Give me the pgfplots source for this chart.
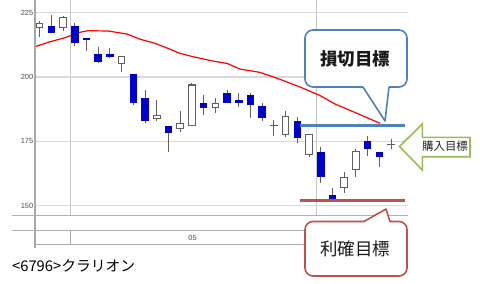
\documentclass[border=0pt]{standalone}
\usepackage{fontspec}
\setmainfont{Liberation Sans}
\newfontfamily\jp{Noto Sans CJK JP}
\usepackage{pgfplots}
\usepackage{pgfplotstable}
\pgfplotsset{compat=1.18}
\definecolor{cblue}{RGB}{0,0,200}
\definecolor{wick}{RGB}{96,96,96}
\definecolor{tblue}{RGB}{79,129,189}
\definecolor{tred}{RGB}{192,80,77}
\definecolor{tgreen}{RGB}{155,187,89}
\definecolor{gridc}{RGB}{218,218,218}
\definecolor{vgrid}{RGB}{200,200,200}
\definecolor{axc}{RGB}{168,168,168}

\pgfplotstableread{
i o h l c
1 219.3 221.9 215.4 220.9
2 219.9 224.1 217.2 217.2
3 219.2 223.8 218.0 223.1
4 219.9 220.9 212.2 213.1
5 215.2 215.2 210.1 214.3
6 208.9 211.8 205.3 205.9
7 208.9 211.2 207.3 207.9
8 205.3 207.9 202.1 207.9
9 201.0 201.0 189.1 190.0
10 191.8 194.9 182.0 183.0
11 183.9 191.1 183.0 185.0
12 180.9 180.9 171.0 178.1
13 179.8 186.9 178.7 182.0
14 181.1 197.8 181.1 196.9
15 189.9 193.0 185.2 188.1
16 188.1 191.7 185.9 189.8
17 193.9 194.9 190.0 190.0
18 190.9 193.9 188.2 190.0
19 193.0 193.9 183.9 189.1
20 188.8 189.8 183.0 183.9
21 181.0 183.3 177.2 181.0
22 177.7 186.9 176.8 184.8
23 182.9 184.6 174.2 176.2
24 169.9 177.7 169.0 177.7
25 171.0 172.7 158.9 161.2
26 154.0 156.7 152.4 152.4
27 157.1 162.9 155.0 160.8
28 164.1 171.9 161.2 171.0
29 175.1 177.1 169.3 172.0
30 171.0 171.0 165.1 169.0
31 173.6 175.8 171.9 173.6
}\ohlc

\pgfplotstableread{
i o c
2 219.9 217.2
4 219.9 213.1
5 215.2 214.3
6 208.9 205.9
7 208.9 207.9
9 201.0 190.0
10 191.8 183.0
12 180.9 178.1
15 189.9 188.1
17 193.9 190.0
18 190.9 190.0
19 193.0 189.1
20 188.8 183.9
23 182.9 176.2
25 171.0 161.2
26 154.0 152.4
29 175.1 172.0
30 171.0 169.0
}\down

\pgfplotstableread{
i o c
1 219.3 220.9
3 219.2 223.1
8 205.3 207.9
11 183.9 185.0
13 179.8 182.0
14 181.1 196.9
16 188.1 189.8
22 177.7 184.8
24 169.9 177.7
27 157.1 160.8
28 164.1 171.0
}\up

\pgfplotstableread{
i o
21 181.0
31 173.6
}\doji

\pgfplotsset{candle/.style={draw=none, mark=none, forget plot,
  error bars/.cd, y dir=plus, y explicit, error mark=none}}

\begin{document}
\begin{tikzpicture}
\begin{axis}[
  at={(35bp,-215bp)}, anchor=south west,
  scale only axis, width=373bp, height=215bp,
  xmin=0.6, xmax=32.45, ymin=146.35, ymax=229.94,
  axis line style={draw=none},
  major tick style={draw=none},
  xtick={3.62,24.63}, xticklabels={,,},
  ytick={150,175,200,225},
  xmajorgrids, ymajorgrids,
  x grid style={color=vgrid, line width=0.9bp},
  y grid style={color=gridc, line width=1.4bp},
  yticklabel style={font=\fontsize{7.5}{8}\selectfont, text=black!70, inner sep=1.5bp},
  /pgf/number format/assume math mode=true,
]
% moving average
\addplot[color=red, line width=1.2bp, mark=none] coordinates {
(0.60,211.8) (1.88,213.7) (3.16,215.3) (4.44,217.4) (5.12,218.0) (6.83,217.9)
(8.46,216.7) (9.57,214.7) (10.85,213.1) (12.13,210.8) (12.98,209.2) (14.09,207.9)
(15.80,206.2) (16.99,205.3) (18.10,203.1) (19.81,201.8) (21.52,199.1) (23.23,196.1)
(24.94,192.8) (26.22,189.5) (27.93,186.2) (30.06,182.0)};
% wicks
\addplot[candle, error bar style={draw=wick, line width=1bp}]
  table[x=i, y=l, y error expr=\thisrow{h}-\thisrow{l}] {\ohlc};
% down bodies
\addplot[candle, error bar style={draw=cblue, line width=7.5bp}]
  table[x=i, y=c, y error expr=\thisrow{o}-\thisrow{c}] {\down};
% up bodies outline + fill
\addplot[candle, error bar style={draw=wick, line width=7.5bp}]
  table[x=i, y expr=\thisrow{o}-0.2, y error expr=\thisrow{c}-\thisrow{o}+0.4] {\up};
\addplot[candle, error bar style={draw=white, line width=5.5bp}]
  table[x=i, y expr=\thisrow{o}+0.2, y error expr=\thisrow{c}-\thisrow{o}-0.4] {\up};
% doji
\addplot[candle, error bar style={draw=wick, line width=7.5bp}]
  table[x=i, y expr=\thisrow{o}-0.2, y error expr=0.4] {\doji};
% target lines
\addplot[color=tblue, line width=3bp, mark=none] coordinates {(23.23,181.3) (32.2,181.3)};
\addplot[color=tred, line width=3bp, mark=none] coordinates {(23.23,151.9) (32.2,151.9)};
\end{axis}

\begin{scope}[x=1bp,y=-1bp]
\draw[axc, line width=1.8bp] (35,0) -- (35,248);
\draw[axc!90, line width=1bp] (12,215) -- (408,215);
\draw[axc!90, line width=1bp] (12,230) -- (408,230);
\draw[axc, line width=1bp] (35,244) -- (408,244);
\draw[axc, line width=1bp] (70,230) -- (70,244);
\draw[axc, line width=1bp] (316,230) -- (316,244);
\node[inner sep=0, text=black!70] at (192.5,237.5) {\fontsize{7.5}{8}\selectfont 05};

% stop-loss callout
\draw[tblue, line width=1.6bp, fill=white, rounded corners=8bp] (305,30) rectangle (407,87);
\fill[white] (364,85) rectangle (388,89);
\fill[white] (363,86) -- (385,121) -- (389,86) -- cycle;
\draw[tblue, line width=1.6bp, line join=round] (363,87) -- (385,121) -- (389,87);
\node[text=black!90] at (355,58.5) {\jp\bfseries\fontsize{17.5}{18}\selectfont 損切目標};

% take-profit callout
\draw[tred, line width=1.6bp, fill=white, rounded corners=8bp] (305,221.5) rectangle (407,276);
\fill[white] (365,219.5) rectangle (389,223.5);
\fill[white] (364,222.5) -- (386,209) -- (390,222.5) -- cycle;
\draw[tred, line width=1.6bp, line join=round] (364,221.5) -- (386,209) -- (390,221.5);
\node[text=black!90] at (355,248.5) {\jp\fontsize{17.5}{18}\selectfont 利確目標};

% buy arrow
\draw[tgreen, line width=1.6bp, fill=white, line join=miter] (399.5,146.5) -- (422.3,124) -- (422.3,137.3) -- (470,137.3) -- (470,156.7) -- (422.3,156.7) -- (422.3,170) -- cycle;
\node[text=black!85] at (445,146.5) {\jp\fontsize{11.5}{12}\selectfont 購入目標};

% title
\node[anchor=west, inner sep=0] at (12,266) {\jp\fontsize{14.8}{15}\selectfont <6796>クラリオン};

\pgfresetboundingbox
\path[use as bounding box] (0,0) rectangle (480,283);
\end{scope}
\end{tikzpicture}
\end{document}
